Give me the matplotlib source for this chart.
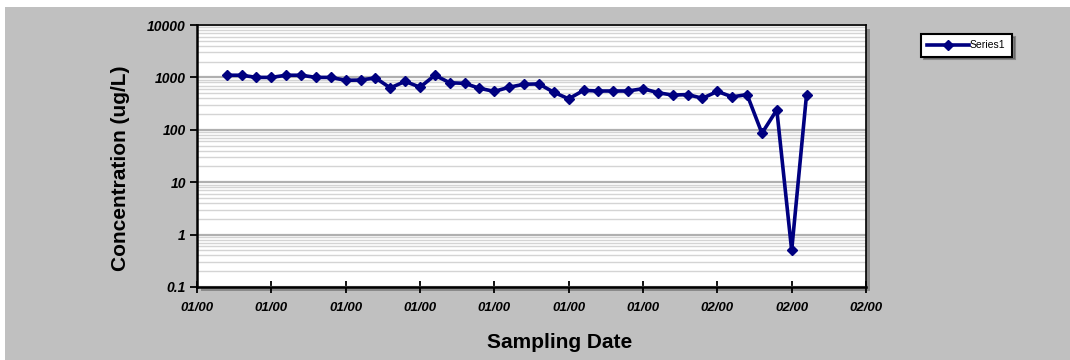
# libraries
import numpy as np
import matplotlib
matplotlib.use('Agg')
import matplotlib.pyplot as plt
from matplotlib.patches import Rectangle
from matplotlib.ticker import FixedLocator, FixedFormatter, LogLocator, NullFormatter


# data
sample_pos = list(range(2, 42))
concentration = [
    1100, 1100, 1000, 1000, 1100, 1100, 1000, 1000, 880, 890,
    980, 630, 840, 650, 1100, 790, 770, 620, 540, 650,
    740, 750, 520, 390, 565, 550, 550, 550, 610, 510,
    460, 470, 400, 540, 425, 470, 86, 240, 0.5, 470,
]
tick_pos = [0, 5, 10, 15, 20, 25, 30, 35, 40, 45]
tick_labels = ['01/00'] * 7 + ['02/00'] * 3
y_ticks = [0.1, 1, 10, 100, 1000, 10000]
y_tick_labels = ['0.1', '1', '10', '100', '1000', '10000']

plt.rcParams['font.family'] = ['Liberation Sans', 'DejaVu Sans']

W, H = 1070, 360
fig = plt.figure(figsize=(W / 100, H / 100), dpi=100)
fig.patch.set_facecolor('white')

# grey chart area with thin white strip at top / left
fig.add_artist(Rectangle((5 / W, 0), 1, (H - 7) / H, transform=fig.transFigure,
                         facecolor='#c0c0c0', edgecolor='none', zorder=-2))

left, right, top, bottom = 197, 866, 25, 287
ax_rect = [left / W, 1 - bottom / H, (right - left) / W, (bottom - top) / H]

# plot area shadow
fig.add_artist(Rectangle((ax_rect[0] + 4 / W, ax_rect[1] - 4 / H), ax_rect[2], ax_rect[3],
                         transform=fig.transFigure, facecolor='#8a8a8a',
                         edgecolor='none', zorder=-1))

ax = fig.add_axes(ax_rect)
ax.set_zorder(1)
ax.set_facecolor('white')
ax.set_yscale('log')
ax.set_ylim(0.1, 10000)
ax.set_xlim(0, 45)

ax.plot(sample_pos, concentration, color='#000080', lw=2.6, marker='D',
        markersize=5, label='Series1', zorder=3)

# y axis
ax.yaxis.set_major_locator(FixedLocator(y_ticks))
ax.yaxis.set_major_formatter(FixedFormatter(y_tick_labels))
ax.yaxis.set_minor_locator(LogLocator(base=10, subs=np.arange(2, 10)))
ax.yaxis.set_minor_formatter(NullFormatter())
ax.grid(True, which='major', axis='y', color='#b0b0b0', lw=1.6)
ax.grid(True, which='minor', axis='y', color='#d4d4d4', lw=1.0)
ax.tick_params(axis='y', which='major', direction='out', length=5, width=1.3,
               pad=3, labelsize=10)
ax.tick_params(axis='y', which='minor', length=0)

# x axis
ax.set_xticks(tick_pos)
ax.set_xticklabels(tick_labels)
ax.tick_params(axis='x', direction='inout', length=9, width=1.3, pad=6,
               labelsize=9.5)
for lab in ax.get_xticklabels() + ax.get_yticklabels():
    lab.set_fontweight('bold')
    lab.set_fontstyle('italic')

for side in ['left', 'bottom', 'right', 'top']:
    ax.spines[side].set_color('black')
ax.spines['left'].set_linewidth(1.8)
ax.spines['bottom'].set_linewidth(1.8)
ax.spines['right'].set_linewidth(1.2)
ax.spines['top'].set_linewidth(1.2)

fig.text(121 / W, 1 - 168 / H, 'Concentration (ug/L)', rotation=90,
         ha='center', va='center', fontsize=15, fontweight='bold')
fig.text(560 / W, 1 - 343 / H, 'Sampling Date', ha='center', va='center',
         fontsize=15, fontweight='bold')

leg = fig.legend(loc='upper left', bbox_to_anchor=(921 / W, 1 - 34 / H),
                 fontsize=7.5, frameon=True, fancybox=False, shadow=True,
                 handlelength=4.0, borderpad=0.6, handletextpad=0.1,
                 borderaxespad=0)
leg.get_frame().set_edgecolor('black')
leg.get_frame().set_linewidth(1.5)

fig.savefig('out.png', dpi=100, facecolor=fig.get_facecolor())
